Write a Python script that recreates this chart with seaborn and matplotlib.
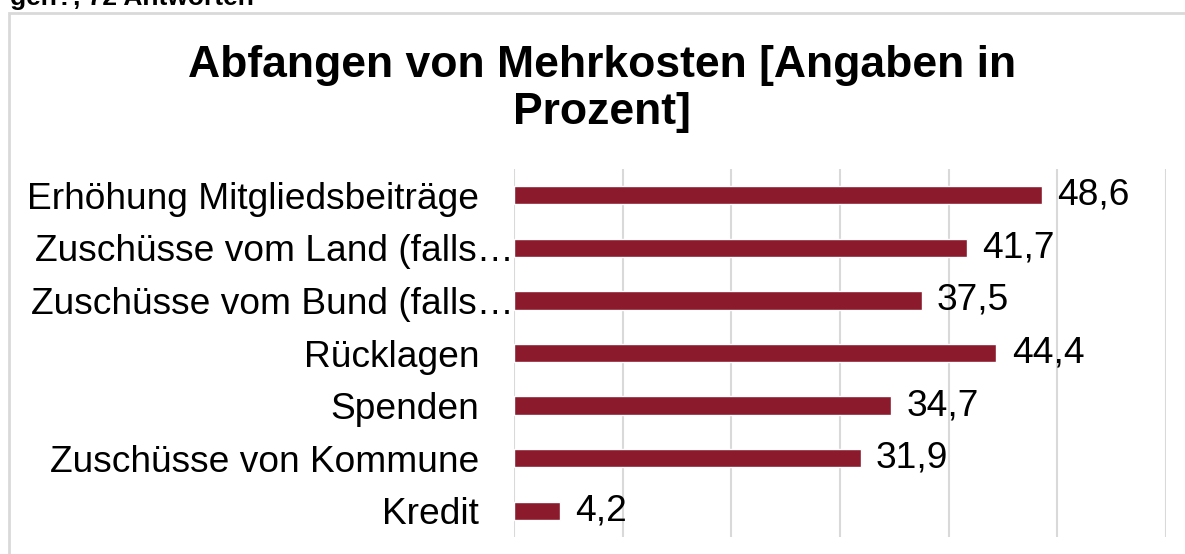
import matplotlib
matplotlib.use("Agg")
import matplotlib.pyplot as plt
import matplotlib.transforms as mtransforms
from matplotlib.patches import Rectangle
import seaborn as sns
import pandas as pd

sns.set_style("white")
plt.rcParams['font.family'] = ['Liberation Sans', 'DejaVu Sans']
plt.rcParams['text.color'] = 'black'
plt.rcParams['ytick.color'] = 'black'

categories = ["Erhöhung Mitgliedsbeiträge", "Zuschüsse vom Land (falls…",
              "Zuschüsse vom Bund (falls…", "Rücklagen", "Spenden",
              "Zuschüsse von Kommune", "Kredit"]
values = [48.6, 41.7, 37.5, 44.4, 34.7, 31.9, 4.2]
truncated = ["Zuschüsse vom Land (falls…", "Zuschüsse vom Bund (falls…"]
x_ticks = [0, 10, 20, 30, 40, 50, 60]

bar_color = "#8B1A2C"
grid_color = "#D9D9D9"

df = pd.DataFrame({"Kategorie": categories, "Prozent": values})

fig = plt.figure(figsize=(11.85, 5.54), dpi=100)
ax = fig.add_axes([514 / 1185, 1 - 537 / 554, (1166 - 514) / 1185, (537 - 169) / 554])

sns.barplot(data=df, y="Kategorie", x="Prozent", color=bar_color, width=0.35,
            saturation=1, ax=ax, orient="h")

ax.set_xlim(0, 60)
ax.set_xticks(x_ticks)
ax.set_xticklabels([])
ax.set_ylim(6.5, -0.5)
ax.xaxis.grid(True, color=grid_color, linewidth=1.5)
ax.set_axisbelow(True)
for s in ax.spines.values():
    s.set_visible(False)
ax.tick_params(axis="x", length=0)
ax.tick_params(axis="y", length=0, pad=25, labelsize=26.7, labelcolor="black")
ax.set_xlabel("")
ax.set_ylabel("")

# truncated labels run right up to the axis
shift = mtransforms.ScaledTranslation(25 / 72, 0, fig.dpi_scale_trans)
for lab in ax.get_yticklabels():
    if lab.get_text() in truncated:
        lab.set_transform(lab.get_transform() + shift)

labels = ax.bar_label(ax.containers[0],
                      labels=[f"{v:.1f}".replace(".", ",") for v in values],
                      padding=11, fontsize=26.7, color="black")
down = mtransforms.ScaledTranslation(0, -2 / 100, fig.dpi_scale_trans)
for t in labels:
    t.set_transform(t.get_transform() + down)

fig.text(602 / 1185, 1 - 89 / 554, "Abfangen von Mehrkosten [Angaben in\nProzent]",
         ha="center", va="center", fontsize=32, fontweight="bold", linespacing=1.17)

fig.text(10 / 1185, 1 - 5 / 554, "gen?, 72 Antworten", ha="left", va="baseline",
         fontsize=19, fontweight="bold")

fig.patches.append(Rectangle((8.5 / 1185, -0.1), 1.2, 1 - 13 / 554 + 0.1,
                             transform=fig.transFigure, fill=False,
                             edgecolor=grid_color, linewidth=2))

fig.savefig("out.png", dpi=100)
